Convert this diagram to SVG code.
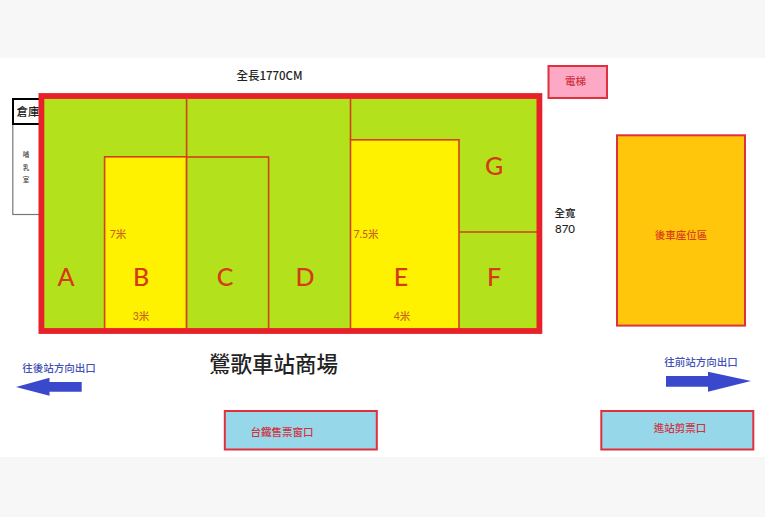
<svg xmlns="http://www.w3.org/2000/svg" width="765" height="517" viewBox="0 0 765 517">
<style>
text{font-family:"Noto Sans CJK TC","Noto Sans CJK SC",sans-serif;text-anchor:middle}
.zone{stroke:#d2401c;stroke-width:1.600}
.green{fill:#b3e21c}
.yellow{fill:#fff200}
.letter{font-family:"Lato","Noto Sans",sans-serif;font-size:25px;fill:#d53a12;font-weight:500}
.dim{font-size:10.500px;fill:#c8601a;font-family:"Lato","Noto Sans CJK TC",sans-serif;font-weight:500}
.red{fill:#d0323f;font-size:10.500px;font-weight:500}
.blue{fill:#3f52b4;font-size:10.500px;font-weight:500}
.black{fill:#222;font-size:11.500px;font-weight:500}
.box{stroke:#e0303c;stroke-width:2}
.arrow{fill:#3a49cc}
</style>
<rect width="765" height="517" fill="#f7f7f7"/>
<rect y="58" width="765" height="399" fill="#fff"/>
<g id="nursing-room"><rect x="12.800" y="124" width="27" height="90.500" fill="#fff" stroke="#777" stroke-width="1.200"/>
<text x="26" y="157" style="font-size:6.500px;fill:#444;font-weight:500">哺</text><text x="26" y="170" style="font-size:6.500px;fill:#444;font-weight:500">乳</text><text x="26" y="182" style="font-size:6.500px;fill:#444;font-weight:500">室</text></g>
<g id="storage"><rect x="13" y="99" width="27" height="25" fill="#fff" stroke="#000" stroke-width="2"/>
<text x="28" y="116" class="black">倉庫</text></g>
<g id="hall"><rect x="41.400" y="96" width="498" height="235" class="green"/></g>
<g id="zone-A"><text x="66" y="286" class="letter">A</text></g>
<g id="zone-B"><rect x="104.600" y="156.800" width="82" height="173" class="yellow zone"/>
<text x="141" y="286" class="letter">B</text>
<text x="118" y="238" class="dim">7米</text><text x="141" y="320" class="dim">3米</text></g>
<g id="zone-C"><rect x="186.600" y="157" width="82" height="173" class="green zone"/>
<text x="225" y="286" class="letter">C</text></g>
<g id="zone-D"><text x="305" y="286" class="letter">D</text></g>
<g id="zone-E"><rect x="350.500" y="139.800" width="108.500" height="190" class="yellow zone"/>
<text x="401" y="286" class="letter">E</text>
<text x="366" y="238" class="dim">7.5米</text><text x="402" y="320" class="dim">4米</text></g>
<g id="zone-F"><text x="494" y="286" class="letter">F</text></g>
<g id="zone-G"><text x="494" y="175" class="letter">G</text></g>
<g id="connectors" fill="none" stroke="#d2401c" stroke-width="1.600">
<path d="M186.600 99V157M350.500 99V140M459 232H537"/>
</g>
<g id="hall-border"><rect x="41.400" y="96" width="498" height="235" fill="none" stroke="#e8202a" stroke-width="5.800"/></g>
<g id="elevator"><rect x="548.500" y="66" width="58.500" height="32" fill="#fda9c6" class="box"/>
<text x="575.500" y="85" class="red">電梯</text></g>
<g id="rear-seats"><rect x="617" y="135.300" width="128" height="190.300" fill="#ffc60b" class="box"/>
<text x="681" y="239" style="font-size:10.500px;fill:#d8401c;font-weight:500">後車座位區</text></g>
<g id="ticket-window"><rect x="224.800" y="411" width="152" height="38.500" fill="#97d7ea" class="box"/>
<text x="282" y="436" class="red">台鐵售票窗口</text></g>
<g id="ticket-gate"><rect x="601.300" y="411" width="152" height="38.500" fill="#97d7ea" class="box"/>
<text x="680" y="432" class="red">進站剪票口</text></g>
<g id="exit-back"><polygon class="arrow" points="16,387 49.500,377.700 49.500,382 81.700,382 81.700,391.700 49.500,391.700 49.500,395.700"/>
<text x="59" y="372" class="blue">往後站方向出口</text></g>
<g id="exit-front"><polygon class="arrow" points="666,376 708,376 708,371.700 751,381 708,391.700 708,386.700 666,386.700"/>
<text x="701" y="366" class="blue">往前站方向出口</text></g>
<g id="labels">
<text x="269.500" y="80" class="black">全長1770CM</text>
<text x="565" y="217" style="font-size:10.500px;fill:#222;font-weight:500">全寬</text>
<text x="565" y="233" style="font-size:11.500px;fill:#222;font-family:Lato,sans-serif;font-weight:500">870</text>
<text x="273.500" y="372" style="font-size:21.500px;fill:#222;font-weight:500">鶯歌車站商場</text>
</g>
</svg>
